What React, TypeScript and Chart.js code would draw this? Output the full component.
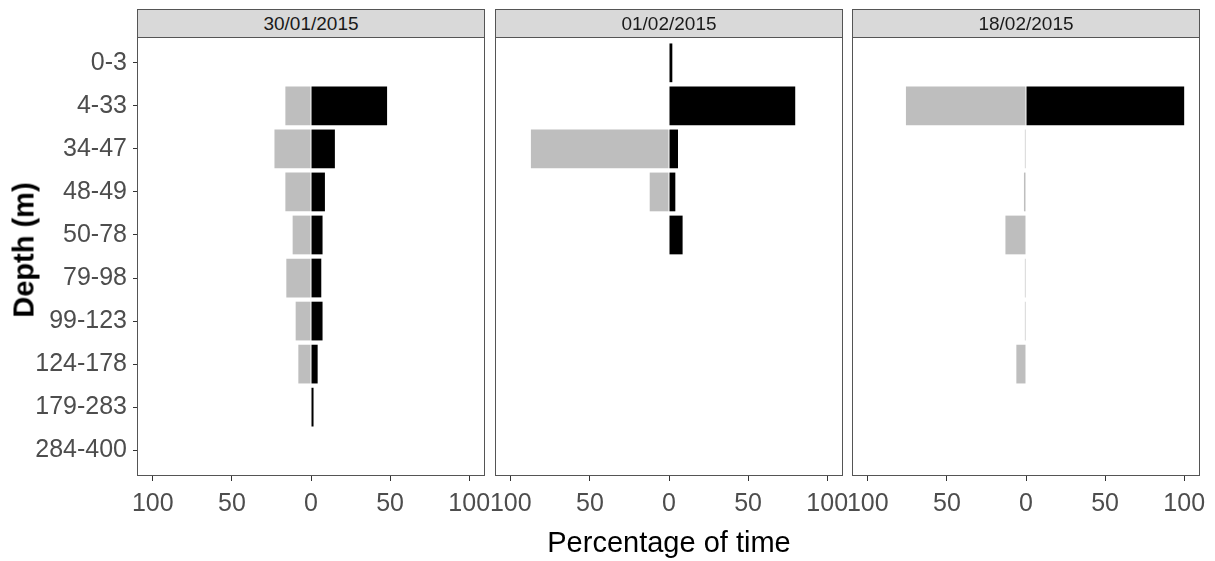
import { useEffect, useRef } from "react";
import { Chart, registerables } from "chart.js";

Chart.register(...registerables);

// Depth bins (rows, top to bottom) and the three sampling dates (panels)
const DEPTH_BINS = ["0-3", "4-33", "34-47", "48-49", "50-78", "79-98", "99-123", "124-178", "179-283", "284-400"];
const PANEL_DATES = ["30/01/2015", "01/02/2015", "18/02/2015"];
const X_TICKS = [-100, -50, 0, 50, 100];

// Percentage of time per depth bin; grey bars are drawn to the left of zero, black bars to the right
const GREY_30JAN = [0, 16.2, 23.1, 16.2, 11.6, 15.6, 9.7, 8.0, 0, 0];
const BLACK_30JAN = [0, 48.1, 15.1, 8.8, 7.3, 6.5, 7.3, 4.2, 1.6, 0];
const GREY_01FEB = [0, 0, 87.3, 12.2, 0, 0, 0, 0, 0, 0];
const BLACK_01FEB = [2.1, 79.8, 5.7, 4.0, 8.6, 0, 0, 0, 0, 0];
const GREY_18FEB = [0, 75.9, 0.7, 1.3, 13.0, 0.7, 0.7, 6.1, 0, 0];
const BLACK_18FEB = [0, 100, 0, 0, 0, 0, 0, 0, 0, 0];

const GREY_SERIES = [GREY_30JAN, GREY_01FEB, GREY_18FEB];
const BLACK_SERIES = [BLACK_30JAN, BLACK_01FEB, BLACK_18FEB];

const FONT = "'Liberation Sans', Arial, Helvetica, sans-serif";
const AXIS_TEXT = "#4D4D4D";
const FRAME = "#555555";

// Layout of the three facets (plot-area boxes in page pixels)
const PLOT_TOP = 37;
const PLOT_HEIGHT = 439;
const STRIP_TOP = 9;
const PANEL_LEFT = [137, 495, 852];
const PANEL_WIDTH = 348;
const Y_AXIS_WIDTH = 137;
const X_AXIS_HEIGHT = 45;
const PAD_TOP = 28;
const PAD_SIDE = 22;

const panelBorder = {
  id: "panelBorder",
  afterDraw(chart: any) {
    const { ctx, chartArea: a } = chart;
    ctx.save();
    ctx.strokeStyle = FRAME;
    ctx.lineWidth = 1;
    ctx.strokeRect(a.left + 0.5, a.top + 0.5, a.right - a.left - 1, a.bottom - a.top - 1);
    ctx.restore();
  },
};

function buildConfig(grey: number[], black: number[], showY: boolean): any {
  return {
    type: "bar",
    data: {
      datasets: [
        {
          label: "grey",
          data: grey.map((v, i) => ({ x: -v, y: i })),
          backgroundColor: "#BEBEBE",
          borderWidth: 0,
          barPercentage: 0.9,
          categoryPercentage: 1,
        },
        {
          label: "black",
          data: black.map((v, i) => ({ x: v, y: i })),
          backgroundColor: "#000000",
          borderWidth: 0,
          barPercentage: 0.9,
          categoryPercentage: 1,
        },
      ],
    },
    options: {
      indexAxis: "y",
      responsive: false,
      maintainAspectRatio: false,
      animation: false,
      devicePixelRatio: 1,
      layout: { padding: { top: PAD_TOP, bottom: 0, left: showY ? 0 : PAD_SIDE, right: PAD_SIDE } },
      plugins: { legend: { display: false }, tooltip: { enabled: false } },
      scales: {
        x: {
          type: "linear",
          stacked: true,
          min: -110,
          max: 110,
          afterBuildTicks: (s: any) => {
            s.ticks = X_TICKS.map((v) => ({ value: v }));
          },
          afterFit: (s: any) => {
            s.height = X_AXIS_HEIGHT;
          },
          ticks: {
            callback: (v: any) => String(Math.abs(Number(v))),
            color: AXIS_TEXT,
            font: { family: FONT, size: 25 },
            padding: 8,
            maxRotation: 0,
            autoSkip: false,
          },
          grid: { drawOnChartArea: false, tickLength: 5, color: "#333333" },
          border: { display: false },
        },
        y: {
          type: "linear",
          stacked: true,
          reverse: true,
          offset: false,
          min: -0.6,
          max: DEPTH_BINS.length - 1 + 0.6,
          display: showY,
          afterBuildTicks: (s: any) => {
            s.ticks = DEPTH_BINS.map((_, i) => ({ value: i }));
          },
          afterFit: (s: any) => {
            if (showY) s.width = Y_AXIS_WIDTH;
          },
          ticks: {
            callback: (v: any) => DEPTH_BINS[Number(v)] ?? "",
            color: AXIS_TEXT,
            font: { family: FONT, size: 25 },
            padding: 6,
            autoSkip: false,
          },
          grid: { drawOnChartArea: false, offset: false, tickLength: 4, color: "#333333" },
          border: { display: false },
        },
      },
    },
    plugins: [panelBorder],
  };
}

export default function App() {
  const c0 = useRef<HTMLCanvasElement>(null);
  const c1 = useRef<HTMLCanvasElement>(null);
  const c2 = useRef<HTMLCanvasElement>(null);
  const canvasRefs = [c0, c1, c2];

  useEffect(() => {
    const charts = canvasRefs.map(
      (r, k) => new Chart(r.current as HTMLCanvasElement, buildConfig(GREY_SERIES[k], BLACK_SERIES[k], k === 0))
    );
    return () => charts.forEach((c) => c.destroy());
  }, []);

  const canvasH = PAD_TOP + PLOT_HEIGHT + X_AXIS_HEIGHT;

  return (
    <div
      style={{
        position: "absolute",
        left: 0,
        top: 0,
        width: 1215,
        height: 561,
        overflow: "hidden",
        background: "#ffffff",
        fontFamily: FONT,
      }}
    >
      {canvasRefs.map((r, k) => {
        const left = k === 0 ? 0 : PANEL_LEFT[k] - PAD_SIDE;
        const width = k === 0 ? PANEL_LEFT[0] + PANEL_WIDTH + PAD_SIDE : PANEL_WIDTH + 2 * PAD_SIDE;
        return (
          <canvas
            key={k}
            ref={r}
            width={width}
            height={canvasH}
            style={{ position: "absolute", left, top: PLOT_TOP - PAD_TOP, width, height: canvasH }}
          />
        );
      })}
      {PANEL_DATES.map((d, k) => (
        <div
          key={d}
          style={{
            position: "absolute",
            left: PANEL_LEFT[k],
            top: STRIP_TOP,
            width: PANEL_WIDTH,
            height: PLOT_TOP - STRIP_TOP + 1,
            boxSizing: "border-box",
            border: `1px solid ${FRAME}`,
            background: "#D9D9D9",
            color: "#1A1A1A",
            fontSize: 19,
            lineHeight: `${PLOT_TOP - STRIP_TOP - 1}px`,
            textAlign: "center",
          }}
        >
          {d}
        </div>
      ))}
      <div
        style={{
          position: "absolute",
          left: 469,
          width: 400,
          top: 528,
          textAlign: "center",
          fontSize: 29,
          lineHeight: "29px",
          color: "#000000",
          whiteSpace: "nowrap",
        }}
      >
        Percentage of time
      </div>
      <div
        style={{
          position: "absolute",
          left: 24,
          top: 250,
          transform: "translate(-50%, -50%) rotate(-90deg)",
          fontSize: 29,
          fontWeight: "bold",
          lineHeight: "29px",
          color: "#000000",
          whiteSpace: "nowrap",
        }}
      >
        Depth (m)
      </div>
    </div>
  );
}
